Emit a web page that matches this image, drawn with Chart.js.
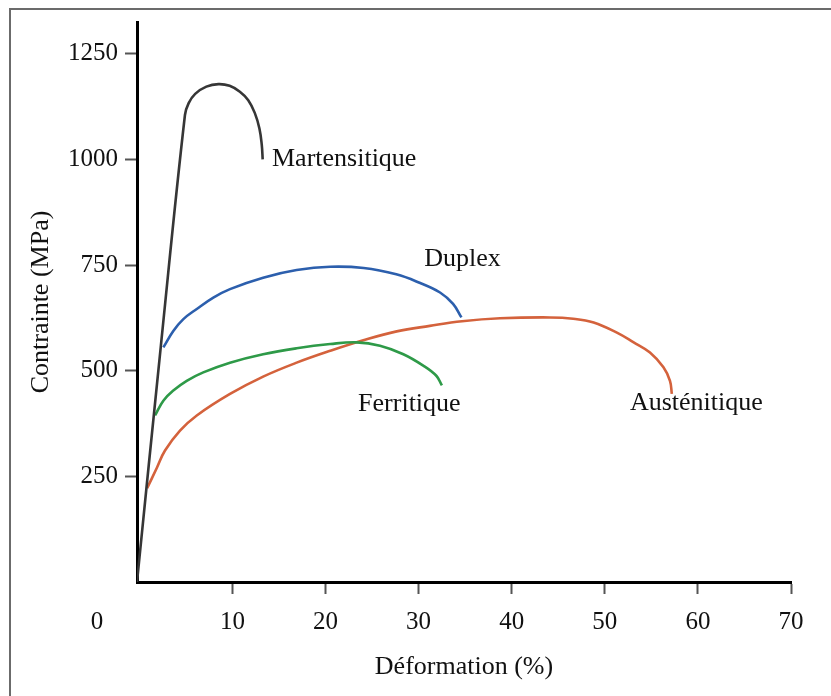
<!DOCTYPE html>
<html>
<head>
<meta charset="utf-8">
<script src="https://cdn.jsdelivr.net/npm/chart.js@4/dist/chart.umd.min.js"></script>
<style>
  body { margin: 0; background: #fff; }
  #wrap { position: relative; width: 831px; height: 696px; }
  #frame { position: absolute; left: 9px; top: 8px; right: 0; bottom: 0;
           border-left: 2px solid #6b6b6b; border-top: 2px solid #6b6b6b; pointer-events: none; }
</style>
</head>
<body>
<div id="wrap">
  <canvas id="chart" width="831" height="696"></canvas>
  <div id="frame"></div>
</div>
<script>
// strain (%) / stress (MPa)
const martX = [-0.25, 2.3, 4.9, 5.3, 6.0, 7.2, 8.5, 9.7, 10.8, 11.7, 12.4, 12.9, 13.15, 13.25];
const martY = [0, 556, 1105, 1133, 1155, 1172, 1178, 1174, 1160, 1140, 1110, 1073, 1035, 1000];

const duplexX = [2.58, 3.65, 4.73, 6.17, 7.95, 9.74, 13.3, 16.9, 20.5, 24.1, 27.6, 30.1, 32.3, 33.7, 34.6];
const duplexY = [555, 594, 622, 646, 673, 693, 720, 738, 746, 743, 728, 708, 685, 658, 626];

const ferrX = [1.69, 2.58, 3.65, 5.09, 6.87, 9.74, 13.3, 16.9, 20.5, 23.35, 25.85, 28.36, 30.5, 31.9, 32.5];
const ferrY = [394, 429, 453, 476, 496, 519, 539, 553, 563, 567, 559, 539, 512, 488, 465];

const austX = [0.84, 1.9, 2.76, 4.37, 6.17, 9.74, 13.3, 16.9, 20.5, 24.06, 27.65, 31.2, 34.66, 38.75, 44.1, 46.6, 48.8, 51.3, 53.1, 54.85, 56.3, 57.0, 57.2];
const austY = [222, 271, 311, 358, 394, 445, 486, 519, 547, 572, 593, 606, 617, 624, 626, 623, 614, 590, 567, 543, 508, 476, 445];

const xTicks = [10, 20, 30, 40, 50, 60, 70];
const yTicks = [250, 500, 750, 1000, 1250];

const curveNames = ['Martensitique', 'Duplex', 'Ferritique', 'Austénitique'];
const labelX = [14.25, 30.6, 23.5, 52.7];
const labelY = [1000, 764, 420, 422];

function pts(xs, ys) {
  return xs.map((x, i) => ({ x: x, y: ys[i] }));
}

const serif = '"Liberation Serif", "Times New Roman", serif';

const curveLabels = {
  id: 'curveLabels',
  afterDraw(chart) {
    const ctx = chart.ctx;
    const xs = chart.scales.x, ys = chart.scales.y;
    ctx.save();
    ctx.fillStyle = '#111';
    ctx.font = '26px ' + serif;
    ctx.textBaseline = 'middle';
    ctx.textAlign = 'left';
    curveNames.forEach((t, i) => {
      ctx.fillText(t, xs.getPixelForValue(labelX[i]), ys.getPixelForValue(labelY[i]));
    });
    // origin label, sitting left of the corner
    ctx.font = '25px ' + serif;
    ctx.textAlign = 'center';
    ctx.fillText('0', chart.chartArea.left - 40, xs.top + 40);
    ctx.restore();
  }
};

const ds = (label, xs, ys, color) => ({
  label: label,
  data: pts(xs, ys),
  showLine: true,
  borderColor: color,
  borderWidth: 2.6,
  pointRadius: 0,
  tension: 0.4,
  fill: false
});

new Chart(document.getElementById('chart'), {
  type: 'scatter',
  data: {
    datasets: [
      ds('Martensitique', martX, martY, '#363636'),
      ds('Duplex', duplexX, duplexY, '#2c5fad'),
      ds('Ferritique', ferrX, ferrY, '#2e9a48'),
      ds('Austénitique', austX, austY, '#d4623c')
    ]
  },
  options: {
    responsive: false,
    animation: false,
    layout: { padding: { left: 0, top: 20, right: 40, bottom: 0 } },
    plugins: { legend: { display: false }, tooltip: { enabled: false } },
    scales: {
      x: {
        type: 'linear',
        min: -0.25,
        max: 70,
        afterBuildTicks: s => { s.ticks = xTicks.map(v => ({ value: v })); },
        afterFit: s => { s.height = 114; },
        grid: { drawOnChartArea: false, drawTicks: true, tickLength: 12, tickColor: '#555', tickWidth: 2 },
        border: { display: true, color: '#000', width: 3 },
        ticks: { color: '#111', font: { family: serif, size: 25 }, padding: 13, maxRotation: 0,
                 callback: v => String(v) },
        title: { display: true, text: 'Déformation (%)', color: '#111',
                 font: { family: serif, size: 26 }, padding: { top: 0, bottom: 13 } }
      },
      y: {
        type: 'linear',
        min: 0,
        max: 1325,
        afterBuildTicks: s => { s.ticks = yTicks.map(v => ({ value: v })); },
        afterFit: s => { s.width = 137; },
        grid: { drawOnChartArea: false, drawTicks: true, tickLength: 12, tickColor: '#555', tickWidth: 2 },
        border: { display: true, color: '#000', width: 3 },
        ticks: { color: '#111', font: { family: serif, size: 25 }, padding: 7,
                 callback: v => String(v) },
        title: { display: true, text: 'Contrainte (MPa)', color: '#111',
                 font: { family: serif, size: 26 }, padding: { top: 26, bottom: 0 } }
      }
    }
  },
  plugins: [curveLabels]
});
</script>
</body>
</html>
